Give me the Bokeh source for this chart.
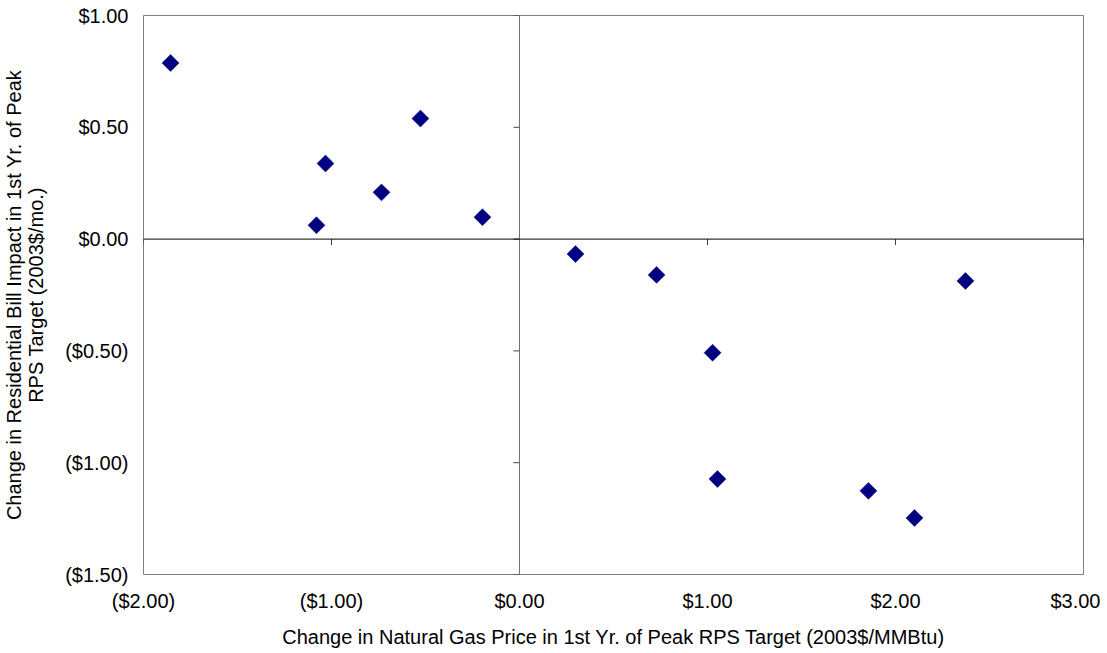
from bokeh.plotting import figure
from bokeh.models import Range1d, Span, FixedTicker, ColumnDataSource
from bokeh.embed import file_html
from bokeh.resources import INLINE
import math

# Data
gas_price_change = [-1.856, -1.032, -1.080, -0.734, -0.527, -0.197,
                    0.298, 0.729, 1.027, 1.053, 1.856, 2.101, 2.372]
bill_impact_change = [0.788, 0.338, 0.062, 0.209, 0.539, 0.098,
                      -0.067, -0.160, -0.508, -1.073, -1.126, -1.247, -0.187]

x_ticks = [-2, -1, 0, 1, 2, 3]
x_tick_labels = ["($2.00)", "($1.00)", "$0.00", "$1.00", "$2.00", "$3.00"]
y_ticks = [-1.5, -1.0, -0.5, 0.0, 0.5, 1.0]
y_tick_labels = ["($1.50)", "($1.00)", "($0.50)", "$0.00", "$0.50", "$1.00"]

FONT = "Liberation Sans"

p = figure(width=1100, height=650, output_backend="svg", toolbar_location=None,
           x_range=Range1d(-2, 3), y_range=Range1d(-1.5, 1.0),
           min_border_left=143, min_border_right=17, min_border_top=15, min_border_bottom=74)

p.xgrid.visible = False
p.ygrid.visible = False
p.outline_line_color = "#808080"
p.outline_line_width = 1
p.background_fill_color = "white"
p.border_fill_color = "white"

# Axes: labels at plot edges, no lines/ticks there
for ax in (p.xaxis[0], p.yaxis[0]):
    ax.axis_line_color = None
    ax.major_tick_line_color = None
    ax.minor_tick_line_color = None
    ax.major_tick_out = 0
    ax.major_tick_in = 0
    ax.minor_tick_out = 0
    ax.minor_tick_in = 0
    ax.major_label_text_font = FONT
    ax.major_label_text_font_size = "20px"
    ax.major_label_text_color = "black"
    ax.axis_label_text_font = FONT
    ax.axis_label_text_font_size = "20px"
    ax.axis_label_text_font_style = "normal"
    ax.axis_label_text_color = "black"
    ax.axis_label_text_line_height = 1.0

p.xaxis.ticker = FixedTicker(ticks=x_ticks)
p.xaxis.major_label_overrides = {t: l for t, l in zip(x_ticks, x_tick_labels)}
p.yaxis.ticker = FixedTicker(ticks=y_ticks)
p.yaxis.major_label_overrides = {t: l for t, l in zip(y_ticks, y_tick_labels)}

p.xaxis.axis_label = "Change in Natural Gas Price in 1st Yr. of Peak RPS Target (2003$/MMBtu)"
p.yaxis.axis_label = "Change in Residential Bill Impact in 1st Yr. of Peak\nRPS Target (2003$/mo.)"
p.xaxis.major_label_standoff = 15
p.xaxis.axis_label_standoff = 11
p.yaxis.major_label_standoff = 15
p.yaxis.axis_label_standoff = 15

# Zero axes crossing in the middle
p.add_layout(Span(location=0, dimension="height", line_color="#707070", line_width=1))
p.add_layout(Span(location=0, dimension="width", line_color="black", line_width=1))

# Tick marks on the zero axes
tick_len_x = 6 / (940 / 5.0)
tick_len_y = 6 / (561 / 2.5)
p.segment(x0=x_ticks, y0=[0] * len(x_ticks), x1=x_ticks, y1=[-tick_len_y] * len(x_ticks),
          line_color="#404040", line_width=1)
p.segment(x0=[0] * len(y_ticks), y0=y_ticks, x1=[-tick_len_x] * len(y_ticks), y1=y_ticks,
          line_color="#404040", line_width=1)

src = ColumnDataSource(dict(x=gas_price_change, y=bill_impact_change))
p.scatter("x", "y", source=src, marker="square", size=12, angle=math.pi / 4,
          fill_color="#000080", line_color="#000080", line_width=0.5)

open("out.html", "w").write(file_html(p, INLINE))
